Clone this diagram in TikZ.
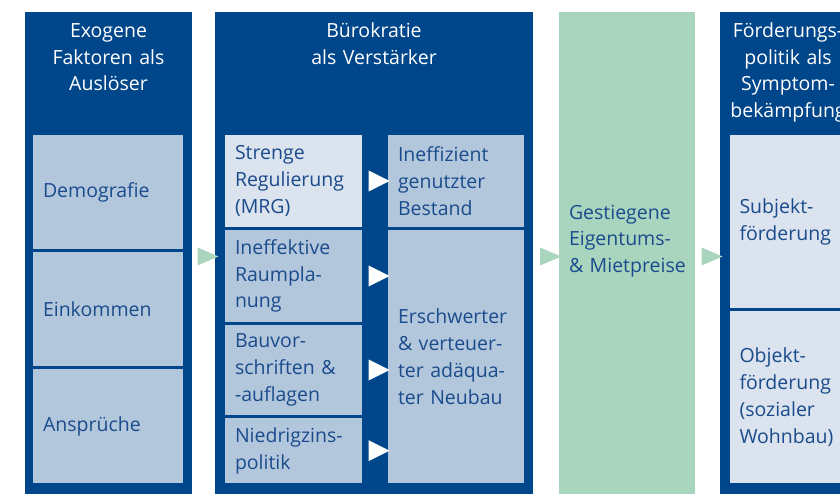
\documentclass[tikz,border=0pt]{standalone}
\usepackage{fontspec}
\setmainfont{Open Sans}
\usetikzlibrary{positioning,calc,shapes.geometric}
\definecolor{darkblue}{HTML}{00468A}
\definecolor{textblue}{HTML}{1A4B8C}
\definecolor{boxblue}{HTML}{B3C7DC}
\definecolor{lightbox}{HTML}{DAE3EE}
\definecolor{mint}{HTML}{A9D5BE}
\tikzset{txt/.style={font=\fontsize{19.5}{26.7}\selectfont}}

\begin{document}
\begin{tikzpicture}[x=1pt, y=-1pt, node distance=3pt]
\tikzstyle{column} = [rectangle, fill=darkblue, minimum height=482pt, inner sep=0pt, outer sep=0pt]
\tikzstyle{head} = [txt, text=white, align=center, inner sep=0pt, anchor=north]
\tikzstyle{box} = [rectangle, fill=boxblue, txt, text=textblue, align=left, inner xsep=10pt, inner ysep=0pt, outer sep=0pt]
\tikzstyle{greenarrow} = [isosceles triangle, isosceles triangle stretches, fill=mint, minimum width=18pt, minimum height=21pt, inner sep=0pt]
\tikzstyle{whitearrow} = [isosceles triangle, isosceles triangle stretches, fill=white, minimum width=21pt, minimum height=21pt, inner sep=0pt]

\useasboundingbox (0,0) rectangle (840,493);
\clip (0,0) rectangle (840,493);

% columns
\node [column, minimum width=167pt, anchor=north west](col1) at (25,12){};
\node [column, minimum width=318pt, right=23pt of col1](col2){};
\node [column, minimum width=136pt, right=26pt of col2, fill=mint](col3){};
\node [column, minimum width=136pt, right=25pt of col3](col4){};

% headers
\node [head, text width=160pt](h1) at (col1.north|-0,18.5){\strut Exogene\\Faktoren als\\Auslöser};
\node [head, text width=300pt](h2) at (col2.north|-0,18.5){\strut Bürokratie\\als Verstärker};
\node [head, text width=136pt](h4) at (col4.north|-0,18.5){\strut Förderungs-\\politik als\\Symptom-\\bekämpfung};

% exogene Faktoren
\node [box, text width=130pt, minimum height=114pt, anchor=north west](demo) at (33,135){Demografie};
\node [box, text width=130pt, minimum height=114pt, below=of demo](eink){Einkommen};
\node [box, text width=130pt, minimum height=114pt, below=of eink](anspr){Ansprüche};

% Buerokratie
\node [box, fill=lightbox, text width=117pt, minimum height=92pt, anchor=north west](mrg) at (225,135){Strenge\\Regulierung\\(MRG)};
\node [box, text width=117pt, minimum height=92pt, below=of mrg](raum){Ineffektive\\Raumpla-\\nung};
\node [box, text width=117pt, minimum height=90pt, below=of raum](bau){Bauvor-\\schriften \&\\-auflagen};
\node [box, text width=117pt, minimum height=65.3pt, below=of bau](zins){Niedrigzins-\\politik};
\node [box, text width=116pt, minimum height=92pt, anchor=north west](ineff) at (388,135){Ineffizient\\genutzter\\Bestand};
\node [box, text width=116pt, minimum height=253.3pt, below=of ineff](neubau){Erschwerter\\\& verteuer-\\ter adäqua-\\ter Neubau};

% Preise
\node [box, fill=none, text width=126pt, anchor=west](preis) at ($(col3.west)+(0,-12)$){Gestiegene\\Eigentums-\\\mbox{\& Mietpreise}};

% Foerderung
\node [box, fill=lightbox, text width=98pt, minimum height=173.3pt, anchor=north west](subj) at (729.5,135){Subjekt-\\förderung};
\node [box, fill=lightbox, text width=98pt, minimum height=171.6pt, below=of subj](obj){Objekt-\\förderung\\(sozialer\\Wohnbau)};

% arrows
\node [greenarrow](a1) at ($(col1.east)!0.5!(col2.west)+(0,3.5)$){};
\node [greenarrow](a2) at ($(col2.east)!0.5!(col3.west)+(0,3.5)$){};
\node [greenarrow](a3) at ($(col3.east)!0.5!(col4.west)+(0,3.5)$){};
\node [whitearrow](w1) at ($(mrg.east)+(13,0)$){};
\node [whitearrow](w2) at ($(raum.east)+(13,0)$){};
\node [whitearrow](w3) at ($(bau.east)+(13,0)$){};
\node [whitearrow](w4) at ($(zins.east)+(13,0)$){};

\end{tikzpicture}
\end{document}
